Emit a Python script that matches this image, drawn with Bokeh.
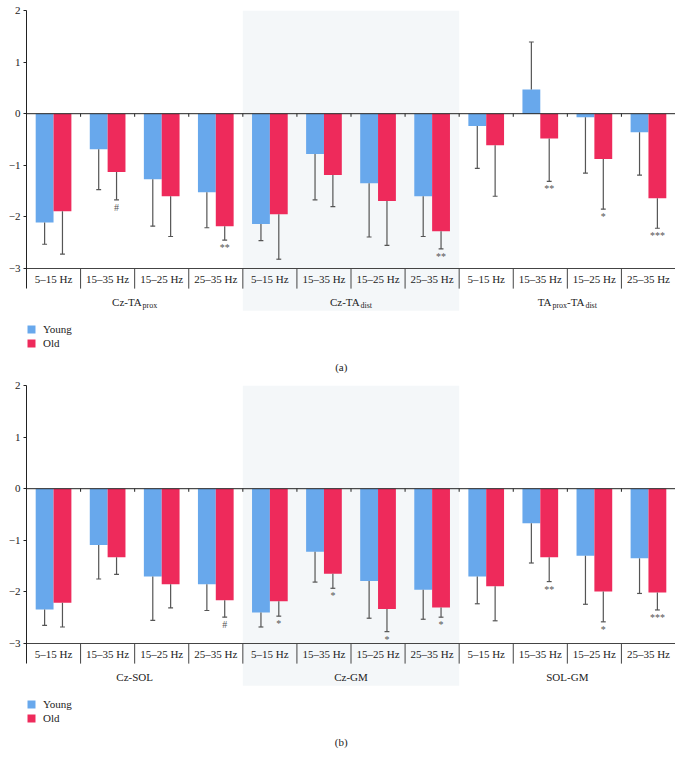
from bokeh.plotting import figure
from bokeh.models import Range1d, FixedTicker, Legend, LegendItem
from bokeh.layouts import column
from bokeh.embed import file_html
from bokeh.resources import INLINE
from bokeh.core.properties import value

# ---------------- data ----------------
bands = ["5–15 Hz", "15–35 Hz", "15–25 Hz", "25–35 Hz"]

groups_a = [[("Cz-TA", False), ("prox", True)],
            [("Cz-TA", False), ("dist", True)],
            [("TA", False), ("prox", True), ("-TA", False), ("dist", True)]]
groups_b = [[("Cz-SOL", False)], [("Cz-GM", False)], [("SOL-GM", False)]]

young_a = [-2.11, -0.69, -1.27, -1.52, -2.14, -0.78, -1.35, -1.60, -0.24, 0.47, -0.07, -0.36]
young_sd_a = [0.42, 0.78, 0.91, 0.69, 0.32, 0.89, 1.04, 0.78, 0.82, 0.92, 1.08, 0.83]
old_a = [-1.89, -1.13, -1.60, -2.18, -1.95, -1.19, -1.69, -2.28, -0.61, -0.48, -0.88, -1.64]
old_sd_a = [0.83, 0.54, 0.78, 0.27, 0.87, 0.61, 0.86, 0.34, 0.99, 0.83, 0.97, 0.58]
sig_a = ["", "#", "", "**", "", "", "", "**", "", "**", "*", "***"]

young_b = [-2.34, -1.09, -1.70, -1.85, -2.40, -1.22, -1.79, -1.96, -1.70, -0.67, -1.30, -1.35]
young_sd_b = [0.31, 0.66, 0.85, 0.51, 0.28, 0.59, 0.72, 0.57, 0.53, 0.77, 0.94, 0.68]
old_b = [-2.21, -1.33, -1.85, -2.16, -2.18, -1.65, -2.33, -2.30, -1.89, -1.33, -1.99, -2.01]
old_sd_b = [0.47, 0.33, 0.46, 0.33, 0.29, 0.28, 0.44, 0.19, 0.67, 0.47, 0.59, 0.34]
sig_b = ["", "", "", "#", "*", "*", "*", "*", "", "**", "*", "***"]

series_names = ["Young", "Old"]
y_ticks = [-3, -2, -1, 0, 1, 2]
y_tick_labels = ["−3", "−2", "−1", "0", "1", "2"]
captions = ["(a)", "(b)"]

# ---------------- style ----------------
FONT = "Liberation Serif"
BLUE = "#68a8ec"
RED = "#ee2a5b"
SHADE = "#f4f7f9"
ERR = "#555555"
PX_PER_UNIT = 51.6

CHAR_W = {"C": .667, "z": .444, "T": .611, "A": .722, "S": .556, "O": .722, "L": .611,
          "G": .722, "M": .889, "p": .5, "r": .333, "o": .5, "x": .5, "d": .5, "i": .278,
          "s": .389, "t": .278, "-": .333}


def text_w(s, fs):
    return sum(CHAR_W.get(c, .5) for c in s) * fs


def make_panel(young, young_sd, old, old_sd, sig, group_parts, caption, top_border, height, legend_y):
    frame_h = height - top_border
    p = figure(width=675, height=height, output_backend="svg", toolbar_location=None,
               x_range=Range1d(0, 12), y_range=Range1d(2 - frame_h / PX_PER_UNIT, 2),
               x_axis_location=None, min_border_left=26, min_border_right=0,
               min_border_top=top_border, min_border_bottom=0)
    p.outline_line_color = None
    p.xgrid.visible = False
    p.ygrid.visible = False
    p.background_fill_color = "white"
    p.border_fill_color = "white"

    n = len(young)
    # shaded middle group
    p.quad(left=[4], right=[8], bottom=[-3.82], top=[2], fill_color=SHADE, line_color=None)

    xs_y = [i + 0.5 - 0.165 for i in range(n)]
    xs_o = [i + 0.5 + 0.165 for i in range(n)]

    def ends(m, sd):
        return [v + (sd_ if v >= 0 else -sd_) for v, sd_ in zip(m, sd)]

    ey = ends(young, young_sd)
    eo = ends(old, old_sd)

    ry = p.vbar(x=xs_y, top=young, bottom=0, width=0.33, fill_color=BLUE, line_color=None)
    ro = p.vbar(x=xs_o, top=old, bottom=0, width=0.33, fill_color=RED, line_color=None)

    xs_all = xs_y + xs_o
    m_all = list(young) + list(old)
    e_all = ey + eo
    p.segment(x0=xs_all, y0=m_all, x1=xs_all, y1=e_all, line_color=ERR, line_width=1.2)
    p.segment(x0=[x - 0.045 for x in xs_all], y0=e_all, x1=[x + 0.045 for x in xs_all], y1=e_all,
              line_color=ERR, line_width=1.2)

    # significance markers under the old bars
    sx = [x for x, s in zip(xs_o, sig) if s]
    sy = [e for e, s in zip(eo, sig) if s]
    st = [s for s in sig if s]
    p.text(x=sx, y=sy, text=st, text_font=value(FONT), text_font_size="10px",
           text_color=ERR, text_align="center", text_baseline="top", y_offset=2)

    # zero line, bottom line, separators
    p.segment(x0=[0], y0=[0], x1=[12], y1=[0], line_color="#222222", line_width=1)
    p.segment(x0=[0], y0=[-3], x1=[12], y1=[-3], line_color="#444444", line_width=1)
    ks = list(range(1, 13))
    p.segment(x0=ks, y0=[-3] * 12, x1=ks, y1=[-3.39] * 12, line_color="#444444", line_width=1)
    p.segment(x0=ks, y0=[0] * 12, x1=ks, y1=[-0.06] * 12, line_color="#222222", line_width=1)

    # band labels
    p.text(x=[i + 0.5 for i in range(n)], y=[-3.21] * n, text=bands * 3,
           text_font=value(FONT), text_font_size="11px", text_color="#222222",
           text_align="center", text_baseline="middle")

    # group labels (with subscripts)
    for g, parts in enumerate(group_parts):
        widths = [text_w(t, 8 if sub else 11) for t, sub in parts]
        off = -sum(widths) / 2
        for (t, sub), w in zip(parts, widths):
            p.text(x=[g * 4 + 2], y=[-3.65], text=[t], text_font=value(FONT),
                   text_font_size="8px" if sub else "11px", text_color="#222222",
                   text_align="left", text_baseline="alphabetic",
                   x_offset=off, y_offset=3 if sub else 0)
            off += w

    # caption
    p.text(x=[5.82], y=[-4.90], text=[caption], text_font=value(FONT), text_font_size="11px",
           text_color="#222222", text_align="center", text_baseline="middle")

    # y axis
    ax = p.yaxis[0]
    ax.bounds = (-3.39, 2)
    ax.ticker = FixedTicker(ticks=y_ticks)
    ax.major_label_overrides = {t: l for t, l in zip(y_ticks, y_tick_labels)}
    ax.major_tick_out = 3
    ax.major_tick_in = 0
    ax.minor_tick_line_color = None
    ax.major_label_standoff = 3
    ax.major_label_text_font = FONT
    ax.major_label_text_font_size = "11px"
    ax.major_label_text_color = "#222222"
    ax.axis_line_color = "#222222"
    ax.major_tick_line_color = "#222222"

    legend = Legend(items=[LegendItem(label=series_names[0], renderers=[ry]),
                           LegendItem(label=series_names[1], renderers=[ro])],
                    location=(0, legend_y), orientation="vertical",
                    glyph_width=10, glyph_height=10, label_height=10, spacing=2,
                    padding=0, margin=0, label_standoff=7,
                    label_text_font=FONT, label_text_font_size="11px",
                    label_text_color="#222222",
                    border_line_color=None, background_fill_alpha=0)
    p.add_layout(legend)
    return p


pa = make_panel(young_a, young_sd_a, old_a, old_sd_a, sig_a, groups_a, captions[0], 10, 378, 29)
pb = make_panel(young_b, young_sd_b, old_b, old_sd_b, sig_b, groups_b, captions[1], 7, 380, 34)

layout = column(pa, pb, spacing=0)
open("out.html", "w").write(file_html(layout, INLINE))
